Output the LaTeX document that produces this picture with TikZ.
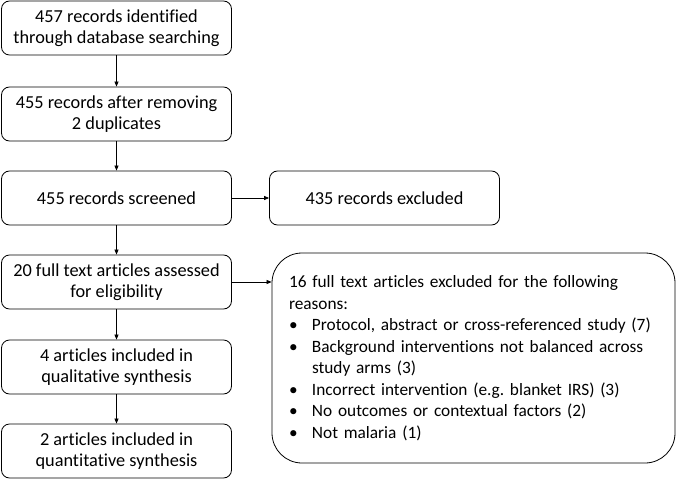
\documentclass[tikz,border=0pt]{standalone}
\usepackage{fontspec}
\setmainfont{Carlito}[Ligatures=NoCommon]
\usepackage{tikz}
\usetikzlibrary{arrows.meta}
\newcommand{\widthstage}{230}
\newcommand{\heightstage}{54}
\newcommand{\reason}[1]{\makebox[23pt][l]{\textbullet}#1}
\newcommand{\reasonwrap}[1]{\makebox[23pt][l]{}#1}
\tikzset{
    common/.style={draw, line width=0.8pt, rectangle, align=center},
    stage/.style={common, rounded corners=8pt, minimum width=\widthstage, minimum height=\heightstage,
        font=\fontsize{18.3}{20.8}\selectfont},
    reasons/.style={common, rounded corners=30pt, minimum width=403, minimum height=210,
        text width=369, align=left, inner sep=0pt, font=\fontsize{17.3}{21.5}\selectfont},
    flow/.style={-{Triangle[length=5pt, width=4pt]}, line width=0.7pt}
}
\begin{document}
\begin{tikzpicture}[x=1pt, y=1pt]
        \useasboundingbox (0,0) rectangle (676,-481);

        \path
            (116.5,-28) node[stage] (ident) {457 records identified\\through database searching}
            to ++(270:86) node[stage] (dedup) {455 records after removing\\2 duplicates}
            to ++(270:84) node[stage] (screen) {455 records screened}
            to ++(270:84) node[stage] (full) {20 full text articles assessed\\for eligibility}
            to ++(270:85) node[stage] (qual) {4 articles included in\\qualitative synthesis}
            to ++(270:84) node[stage] (quant) {2 articles included in\\quantitative synthesis};

        \path
            (screen)
            to ++(0:268) node[stage] (excl) {435 records excluded};

        \node[reasons] (fullexcl) at (473.5,-358) {16 full text articles excluded for the following\\reasons:\\
            \reason{Protocol, abstract or cross-referenced study (7)}\\
            \reason{Background interventions not balanced across}\\
            \reasonwrap{study arms (3)}\\
            \reason{Incorrect intervention (e.g.\ blanket IRS) (3)}\\
            \reason{No outcomes or contextual factors (2)}\\
            \reason{Not malaria (1)}};

        \draw[flow] (ident) -- (dedup);
        \draw[flow] (dedup) -- (screen);
        \draw[flow] (screen) -- (full);
        \draw[flow] (full) -- (qual);
        \draw[flow] (qual) -- (quant);
        \draw[flow] (screen) -- (excl);
        \draw[flow] (full.east) -- (full.east -| fullexcl.west);

    \end{tikzpicture}
\end{document}
